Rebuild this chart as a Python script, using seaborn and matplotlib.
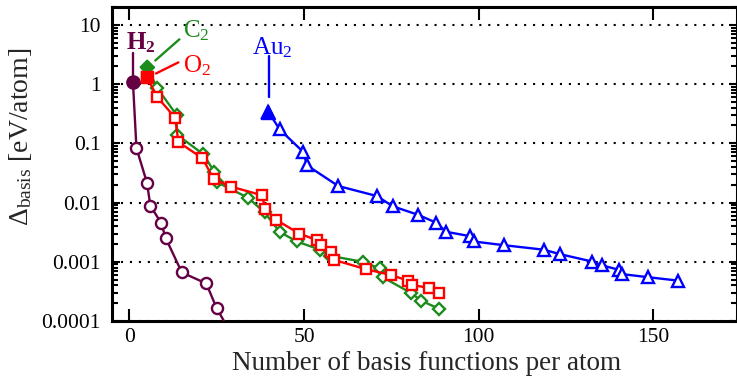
import numpy as np
import pandas as pd
import matplotlib
matplotlib.use("Agg")
import matplotlib.pyplot as plt
import matplotlib.ticker as mticker
import seaborn as sns

# basis functions per atom vs basis-set error (eV/atom)
h2_x = [1, 2, 5, 6, 9, 10.4, 15, 22, 25, 30]
h2_y = [1.08, 0.083, 0.0217, 0.0088, 0.0046, 0.0025, 0.00066, 0.00043, 0.000163, 0.00005]

c2_x = [5, 8, 13.5, 13.6, 21.2, 24.3, 25.1, 34, 38.7, 43, 47.9, 54.6, 57.4,
        66.8, 71.7, 72.5, 80.5, 83.6, 88.7]
c2_y = [1.95, 0.85, 0.3, 0.14, 0.065, 0.033, 0.022, 0.012, 0.0068, 0.0032, 0.0022,
        0.0016, 0.00126, 0.001, 0.00077, 0.00055, 0.0003, 0.00022, 0.00016]

o2_x = [5, 8, 13.1, 14, 20.9, 24.1, 29, 37.9, 38.9, 42, 48.6, 53.8, 54.9, 57.7,
        58.7, 67.7, 74.8, 79.8, 80.8, 85.7, 88.7]
o2_y = [1.3, 0.6, 0.27, 0.105, 0.056, 0.025, 0.0186, 0.0133, 0.0079, 0.0051, 0.0030,
        0.0023, 0.0019, 0.00144, 0.00107, 0.00075, 0.0006, 0.00048, 0.00041, 0.00036, 0.0003]

au2_x = [39.8, 43, 49.8, 50.8, 59.8, 70.8, 75.5, 82.7, 87.7, 90.8, 97.6, 98.6,
         107.4, 118.6, 123.4, 132.5, 135.3, 140.3, 141, 148.4, 157.2]
au2_y = [0.34, 0.172, 0.071, 0.0426, 0.019, 0.0129, 0.0086, 0.0062, 0.0046, 0.0032,
         0.0027, 0.0022, 0.0019, 0.0016, 0.00134, 0.00101, 0.00087, 0.00073, 0.00062,
         0.00055, 0.00048]

y_ticks = [0.0001, 0.001, 0.01, 0.1, 1, 10]
x_ticks = [0, 50, 100, 150]

sns.set_style("ticks")
plt.rcParams["font.family"] = ["Liberation Serif", "DejaVu Serif"]
plt.rcParams["mathtext.fontset"] = "custom"
plt.rcParams["mathtext.rm"] = "Liberation Serif"
plt.rcParams["mathtext.it"] = "Liberation Serif:italic"
plt.rcParams["mathtext.bf"] = "Liberation Serif:bold"

series = [
    ("H2", h2_x, h2_y, "#660045", "o", 8),
    ("C2", c2_x, c2_y, "#1c8c1c", "D", 6),
    ("O2", o2_x, o2_y, "#ff0000", "s", 7.5),
    ("Au2", au2_x, au2_y, "#0000ff", "^", 8.5),
]

fig = plt.figure(figsize=(7.37, 3.77), dpi=100)
ax = fig.add_axes([112 / 737, 56 / 377, 625 / 737, 314 / 377])

for name, xs, ys, col, mk, ms in series:
    df = pd.DataFrame({"x": xs, "y": ys})
    sns.lineplot(data=df, x="x", y="y", ax=ax, sort=False, color=col, lw=1.7,
                 marker=mk, markersize=ms, markerfacecolor="white",
                 markeredgecolor=col, markeredgewidth=1.7, zorder=3)
    # first point drawn filled
    ax.plot(df["x"].iloc[:1], df["y"].iloc[:1], marker=mk, ms=ms + 1.5, color=col,
            ls="none", zorder=4)

ax.set_yscale("log")
ax.set_xlim(-5, 174)
ax.set_ylim(0.0001, 20)
ax.set_xticks(x_ticks)
ax.set_yticks(y_ticks)
ax.yaxis.set_major_formatter(mticker.FuncFormatter(lambda v, p: "%g" % v))
ax.yaxis.set_minor_locator(mticker.LogLocator(base=10, subs=np.arange(2, 10)))
ax.yaxis.set_minor_formatter(mticker.NullFormatter())
ax.xaxis.set_minor_locator(mticker.NullLocator())

ax.tick_params(axis="both", which="both", direction="in", top=True, right=True,
               labelsize=15.5, width=1.5, color="black", labelcolor="black")
ax.tick_params(axis="x", which="major", length=9, pad=5)
ax.tick_params(axis="y", which="major", length=6, pad=8)
ax.tick_params(axis="y", which="minor", length=4)
for sp in ax.spines.values():
    sp.set_linewidth(2.2)
    sp.set_color("black")

ax.yaxis.grid(True, which="major", color="black", lw=1.5, ls=(0, (1, 3.3)))
ax.xaxis.grid(False)

ax.set_xlabel("Number of basis functions per atom", fontsize=19.5)
ax.set_ylabel(r"$\Delta_{\rm basis}$ [eV/atom]", fontsize=20)
ax.xaxis.set_label_coords(0.504, -0.094)
ax.yaxis.set_label_coords(-0.124, 0.586)

# molecule labels with leader lines
ax.text(-1.1, 3.85, r"$\mathbf{H_2}$", color="#660045", fontsize=18, ha="left", va="baseline")
ax.plot([1, 1], [3.4, 1.4], color="#660045", lw=1.7)
ax.text(15.4, 6.1, r"C$_2$", color="#1c8c1c", fontsize=18, ha="left", va="baseline")
ax.plot([7.4, 14.3], [2.5, 5.7], color="#1c8c1c", lw=1.7)
ax.text(15.4, 1.57, r"O$_2$", color="#ff0000", fontsize=18, ha="left", va="baseline")
ax.plot([7.6, 14], [1.51, 2.32], color="#ff0000", lw=1.7)
ax.text(35.1, 3.17, r"Au$_2$", color="#0000ff", fontsize=18, ha="left", va="baseline")
ax.plot([40, 40], [3.0, 0.6], color="#0000ff", lw=1.7)

fig.savefig("out.png", dpi=100)
